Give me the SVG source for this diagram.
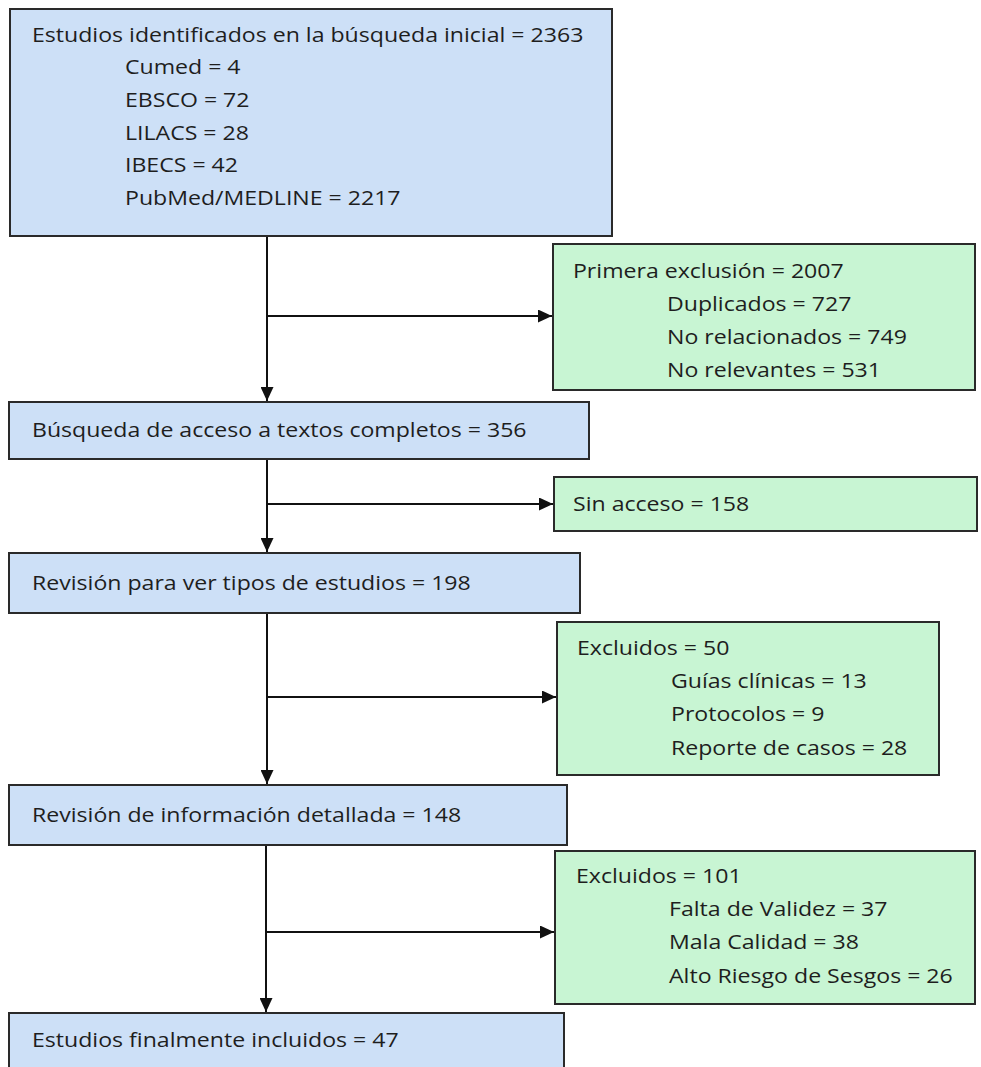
<svg xmlns="http://www.w3.org/2000/svg" width="981" height="1067" viewBox="0 0 981 1067">
<style>
.blue{fill:#cde0f7;stroke:#2a2a2a;stroke-width:2}
.green{fill:#c8f5d3;stroke:#2a2a2a;stroke-width:2}
text{font-family:"Open Sans","Liberation Sans",sans-serif;font-size:19.8px;fill:#1e1e1e}
.ln{stroke:#111;stroke-width:2;fill:none}
</style>
<defs>
<marker id="ah" markerUnits="userSpaceOnUse" markerWidth="15" markerHeight="13" refX="14" refY="6.5" orient="auto">
<path d="M0,0 L14,6.5 L0,13 z" fill="#111"/>
</marker>
</defs>
<rect width="981" height="1067" fill="#ffffff"/>
<g id="connectors">
<line class="ln" x1="267" y1="236" x2="267" y2="401" marker-end="url(#ah)"/>
<line class="ln" x1="267" y1="316" x2="552" y2="316" marker-end="url(#ah)"/>
<line class="ln" x1="267" y1="459" x2="267" y2="552" marker-end="url(#ah)"/>
<line class="ln" x1="267" y1="504" x2="553" y2="504" marker-end="url(#ah)"/>
<line class="ln" x1="267" y1="613" x2="267" y2="784" marker-end="url(#ah)"/>
<line class="ln" x1="267" y1="697" x2="556" y2="697" marker-end="url(#ah)"/>
<line class="ln" x1="266" y1="845" x2="266" y2="1012" marker-end="url(#ah)"/>
<line class="ln" x1="266" y1="932" x2="554" y2="932" marker-end="url(#ah)"/>
</g>
<g id="n1">
<rect class="blue" x="10" y="9" width="602" height="227"/>
<g transform="scale(1.167 1)">
<text x="27.42" y="42">Estudios identificados en la búsqueda inicial = 2363</text>
<text x="107.11" y="74">Cumed = 4</text>
<text x="107.11" y="107">EBSCO = 72</text>
<text x="107.11" y="140">LILACS = 28</text>
<text x="107.11" y="172">IBECS = 42</text>
<text x="107.11" y="205">PubMed/MEDLINE = 2217</text>
</g>
</g>
<g id="e1">
<rect class="green" x="553" y="244" width="422" height="146"/>
<g transform="scale(1.167 1)">
<text x="491.0" y="278">Primera exclusión = 2007</text>
<text x="571.55" y="311">Duplicados = 727</text>
<text x="571.55" y="344">No relacionados = 749</text>
<text x="571.55" y="377">No relevantes = 531</text>
</g>
</g>
<g id="n2">
<rect class="blue" x="9" y="402" width="580" height="57"/>
<g transform="scale(1.167 1)">
<text x="27.42" y="437">Búsqueda de acceso a textos completos = 356</text>
</g>
</g>
<g id="e2">
<rect class="green" x="554" y="477" width="423" height="54"/>
<g transform="scale(1.167 1)">
<text x="491.0" y="511">Sin acceso = 158</text>
</g>
</g>
<g id="n3">
<rect class="blue" x="9" y="553" width="571" height="60"/>
<g transform="scale(1.167 1)">
<text x="27.42" y="590">Revisión para ver tipos de estudios = 198</text>
</g>
</g>
<g id="e3">
<rect class="green" x="557" y="622" width="382" height="153"/>
<g transform="scale(1.167 1)">
<text x="494.43" y="655">Excluidos = 50</text>
<text x="574.98" y="688">Guías clínicas = 13</text>
<text x="574.98" y="721">Protocolos = 9</text>
<text x="574.98" y="755">Reporte de casos = 28</text>
</g>
</g>
<g id="n4">
<rect class="blue" x="9" y="785" width="558" height="60"/>
<g transform="scale(1.167 1)">
<text x="27.42" y="822">Revisión de información detallada = 148</text>
</g>
</g>
<g id="e4">
<rect class="green" x="555" y="851" width="420" height="153"/>
<g transform="scale(1.167 1)">
<text x="493.57" y="883">Excluidos = 101</text>
<text x="573.26" y="916">Falta de Validez = 37</text>
<text x="573.26" y="949">Mala Calidad = 38</text>
<text x="573.26" y="983">Alto Riesgo de Sesgos = 26</text>
</g>
</g>
<g id="n5">
<rect class="blue" x="9" y="1013" width="555" height="70"/>
<g transform="scale(1.167 1)">
<text x="27.42" y="1047">Estudios finalmente incluidos = 47</text>
</g>
</g>
</svg>
